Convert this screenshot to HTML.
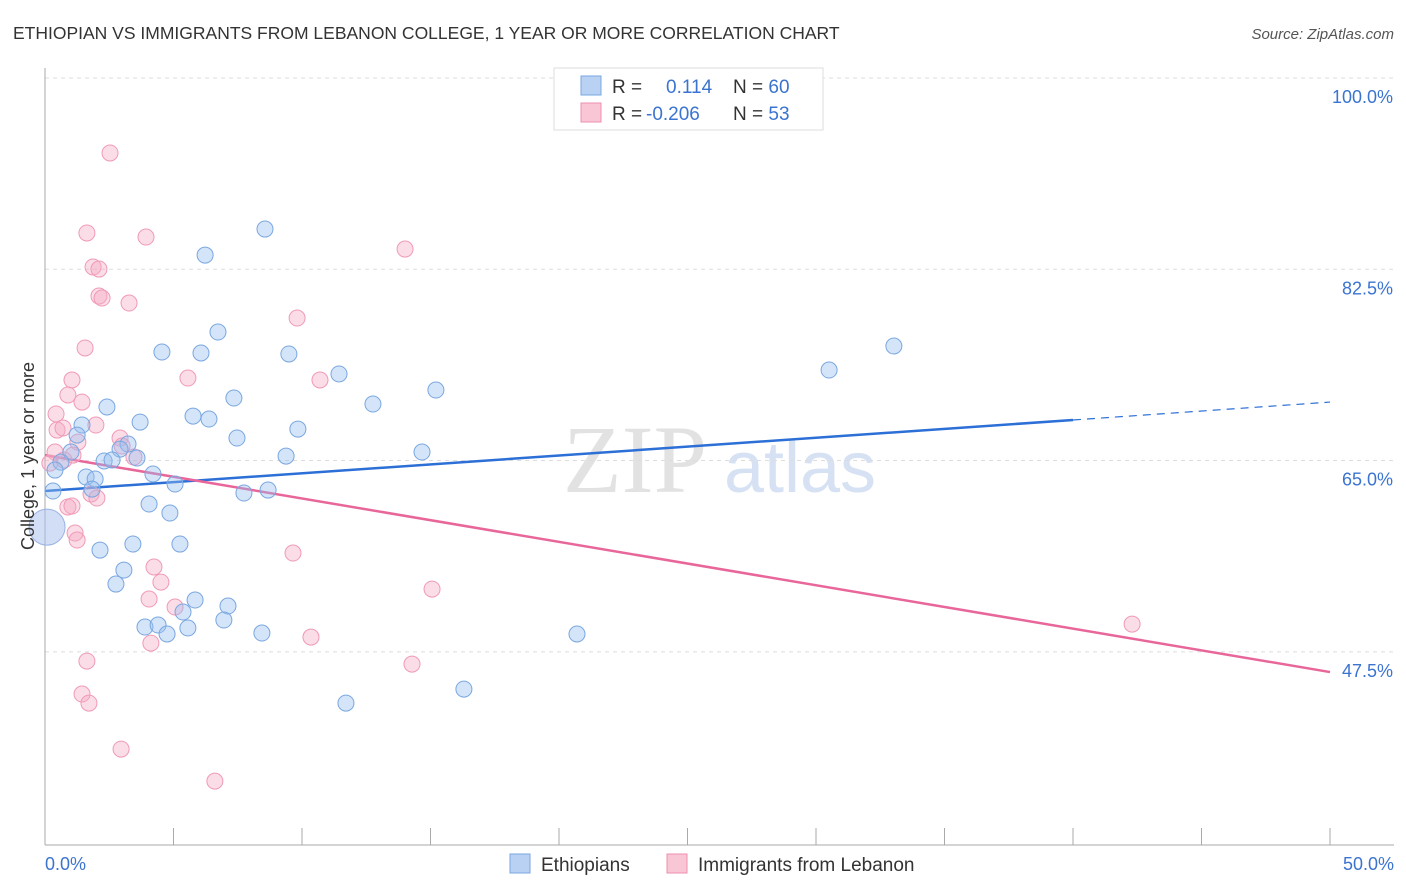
<!DOCTYPE html>
<html><head><meta charset="utf-8">
<style>
body{margin:0;background:#fff;font-family:"Liberation Sans",sans-serif;}
svg{display:block}
</style></head>
<body>
<svg id="chart" width="1406" height="892">
<text x="13" y="39" font-size="17.5" fill="#333">ETHIOPIAN VS IMMIGRANTS FROM LEBANON COLLEGE, 1 YEAR OR MORE CORRELATION CHART</text>
<text x="1394" y="39" font-size="15" fill="#555" font-style="italic" text-anchor="end">Source: ZipAtlas.com</text>
<text x="635" y="492" font-size="96" fill="#e2e2e2" font-family="Liberation Serif,serif" text-anchor="middle">ZIP</text>
<text x="800" y="492" font-size="72" fill="#d6e2f3" text-anchor="middle">atlas</text>
<g id="grid"></g>
<g id="axes"></g>
<g id="lines"></g>
<g id="points"></g>
<g>
<rect x="554" y="68" width="269" height="62" fill="#fff" stroke="#ddd"/>
<rect x="581" y="76" width="20" height="19" fill="#b9d1f3" stroke="#7aa7e0"/>
<rect x="581" y="103" width="20" height="19" fill="#f9c6d5" stroke="#ee8fae"/>
<text x="612" y="93" font-size="19" fill="#333">R = <tspan fill="#3b74d0" x="666">0.114</tspan><tspan x="733" fill="#333">N = </tspan><tspan fill="#3b74d0">60</tspan></text>
<text x="612" y="120" font-size="19" fill="#333">R = <tspan fill="#3b74d0" x="646">-0.206</tspan><tspan x="733" fill="#333">N = </tspan><tspan fill="#3b74d0">53</tspan></text>
</g>
<g>
<rect x="510" y="854" width="20" height="19" fill="#b9d1f3" stroke="#7aa7e0"/>
<text x="541" y="871" font-size="19" fill="#333">Ethiopians</text>
<rect x="667" y="854" width="20" height="19" fill="#f9c6d5" stroke="#ee8fae"/>
<text x="698" y="871" font-size="19" fill="#333">Immigrants from Lebanon</text>
</g>
<text transform="translate(34,456) rotate(-90)" font-size="18" fill="#333" text-anchor="middle">College, 1 year or more</text>
</svg>
<script>
const yTicks=[100,82.5,65,47.5];
const yTickLabels=["100.0%","82.5%","65.0%","47.5%"];
const xTickCount=10;
const blueX=[8.56,6.23,6.73,4.55,6.07,9.49,33.03,30.51,11.44,15.21,7.35,12.76,2.41,5.76,3.70,6.38,1.44,1.25,7.47,9.84,3.23,2.92,1.01,14.67,9.38,2.30,2.61,3.58,0.62,0.39,1.60,1.95,4.20,5.06,1.83,8.68,7.74,0.31,4.05,4.86,2.14,3.42,5.25,3.07,2.76,5.84,5.37,7.12,6.96,3.89,4.40,4.75,5.56,8.44,20.70,16.30,11.71];
const blueY=[86.18,83.8,76.76,74.93,74.84,74.75,75.48,73.28,72.92,71.45,70.72,70.17,69.9,69.07,68.52,68.8,68.25,67.33,67.06,67.88,66.51,66.05,65.78,65.78,65.41,64.96,65.05,65.23,64.86,64.13,63.49,63.31,63.77,62.85,62.39,62.3,62.03,62.21,61.02,60.2,56.81,57.36,57.36,54.98,53.7,52.24,51.14,51.69,50.41,49.77,49.95,49.13,49.68,49.22,49.13,44.09,42.81];
const pinkX=[2.53,1.63,3.93,14.01,1.87,2.10,2.10,2.22,3.27,9.81,1.56,5.56,10.70,1.05,0.89,1.44,0.43,0.47,0.70,1.98,2.92,3.0,1.28,0.39,0.74,1.09,0.19,3.46,1.79,2.02,0.89,1.05,1.17,1.25,9.65,4.24,4.51,15.06,4.05,5.06,42.30,10.35,4.12,1.63,14.28,1.44,1.71,2.96,6.61];
const pinkY=[93.14,85.82,85.45,84.35,82.71,82.52,80.05,79.87,79.41,78.04,75.3,72.55,72.37,72.37,71.0,70.35,69.26,67.79,67.98,68.25,67.06,66.33,66.69,65.78,65.05,65.5,64.77,65.32,61.94,61.57,60.75,60.84,58.37,57.73,56.54,55.26,53.88,53.24,52.33,51.6,50.04,48.85,48.3,46.65,46.38,43.64,42.81,38.6,35.67];
const bigX=[0.08],bigY=[58.91];
const blueTrend=[[0,62.21],[40,68.71],[50,70.35]];
const pinkTrend=[[0,65.5],[50,45.65]];
const NS="http://www.w3.org/2000/svg";
const sx=v=>45+v/50*1285, sy=v=>78+(100-v)*10.93;
function mk(tag,attrs,parent){const e=document.createElementNS(NS,tag);for(const k in attrs)e.setAttribute(k,attrs[k]);document.getElementById(parent).appendChild(e);return e;}
yTicks.forEach((t,i)=>{
 const g=mk('line',{x1:45,x2:1394,y1:sy(t),y2:sy(t),stroke:'#ddd','stroke-dasharray':'4,4'},'grid');
 
 
 const l=mk('text',{x:1393,y:sy(t)+25,'font-size':18,fill:'#3b74d0','text-anchor':'end'},'grid');
 l.textContent=yTickLabels[i];
 
 
});
mk('line',{x1:45,x2:45,y1:68,y2:845,stroke:'#aaa'},'axes');
mk('line',{x1:45,x2:1394,y1:845,y2:845,stroke:'#aaa'},'axes');
for(let i=0;i<=xTickCount;i++){const x=sx(i*50/xTickCount);const t=mk('line',{x1:x,x2:x,y1:828,y2:845,stroke:'#aaa'},'axes');}
const x0=mk('text',{x:45,y:870,'font-size':18,fill:'#3b74d0'},'axes');x0.textContent='0.0%';


const x1=mk('text',{x:1394,y:870,'font-size':18,fill:'#3b74d0','text-anchor':'end'},'axes');x1.textContent='50.0%';


const bl=mk('line',{x1:sx(blueTrend[0][0]),y1:sy(blueTrend[0][1]),x2:sx(blueTrend[1][0]),y2:sy(blueTrend[1][1]),stroke:'#2c6fd6','stroke-width':2.5},'lines');


const bd=mk('line',{x1:sx(blueTrend[1][0]),y1:sy(blueTrend[1][1]),x2:sx(blueTrend[2][0]),y2:sy(blueTrend[2][1]),stroke:'#2c6fd6','stroke-width':1.2,'stroke-dasharray':'8,6'},'lines');


const pl=mk('line',{x1:sx(pinkTrend[0][0]),y1:sy(pinkTrend[0][1]),x2:sx(pinkTrend[1][0]),y2:sy(pinkTrend[1][1]),stroke:'#e8669a','stroke-width':2.5},'lines');


bigX.forEach((v,i)=>{const c=mk('circle',{cx:sx(v),cy:sy(bigY[i]),r:18,fill:'rgba(165,190,235,0.5)',stroke:'#9ab3e3'},'points');

});
pinkX.forEach((v,i)=>{const c=mk('circle',{cx:sx(v),cy:sy(pinkY[i]),r:8,fill:'rgba(245,170,195,0.4)',stroke:'#f09ab8','stroke-width':1},'points');

});
blueX.forEach((v,i)=>{const c=mk('circle',{cx:sx(v),cy:sy(blueY[i]),r:8,fill:'rgba(150,190,240,0.4)',stroke:'#7aa7e0','stroke-width':1},'points');

});
</script>
</body></html>
